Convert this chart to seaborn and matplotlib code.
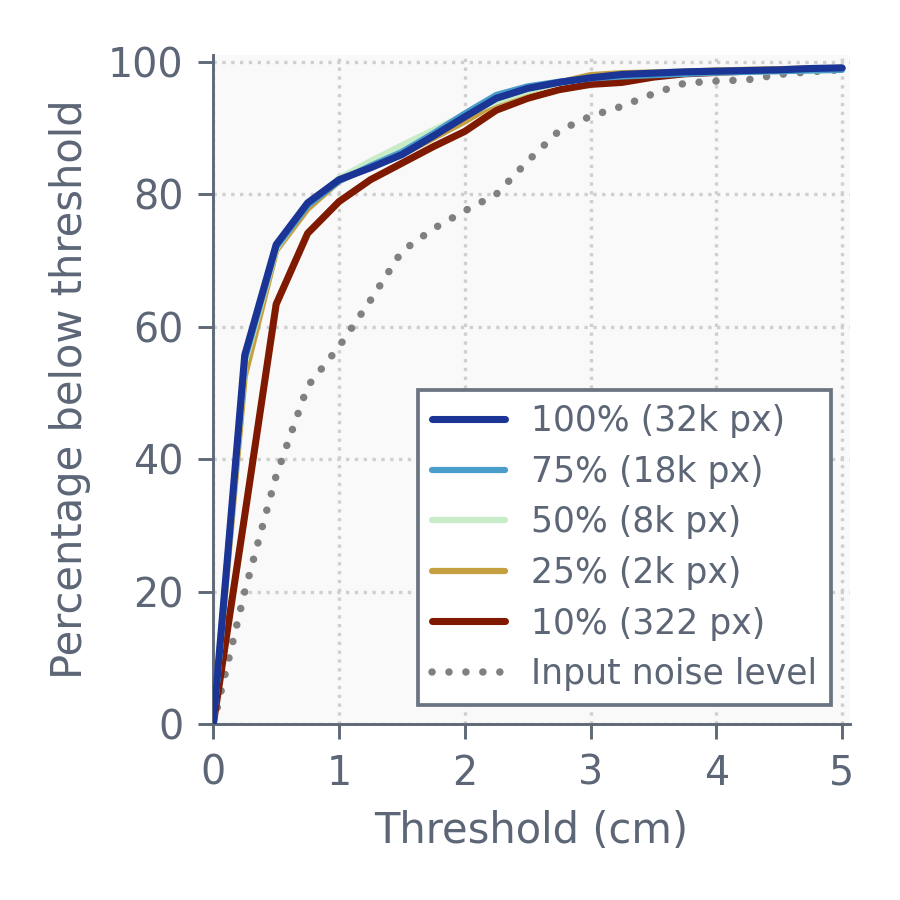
import numpy as np
import pandas as pd
import seaborn as sns
import matplotlib.pyplot as plt

# thresholds (cm)
thresholds = [0, 0.25, 0.5, 0.75, 1, 1.25, 1.5, 1.75, 2, 2.25, 2.5, 2.75,
              3, 3.25, 3.5, 3.75, 4, 4.25, 4.5, 4.75, 5]

# percentage below threshold for each training size
pct_100 = [0, 55.7, 72.4, 78.7, 82.2, 84.0, 86.0, 88.8, 91.7, 94.5, 96.0, 96.9,
           97.6, 98.1, 98.3, 98.5, 98.6, 98.7, 98.8, 99.0, 99.1]
pct_75 = [0, 55.0, 72.0, 78.3, 82.0, 84.3, 86.4, 89.2, 92.2, 95.0, 96.3, 97.0,
          97.5, 97.8, 98.0, 98.2, 98.4, 98.5, 98.6, 98.7, 98.8]
pct_50 = [0, 54.5, 71.8, 78.5, 82.4, 85.0, 87.4, 89.7, 92.0, 94.0, 95.6, 96.8,
          97.6, 98.0, 98.2, 98.3, 98.4, 98.5, 98.6, 98.7, 98.8]
pct_25 = [0, 52.5, 71.5, 77.8, 82.0, 84.2, 86.0, 88.5, 91.0, 93.8, 95.5, 96.9,
          98.0, 98.3, 98.4, 98.5, 98.7, 98.8, 98.9, 99.0, 99.1]
pct_10 = [0, 31.5, 63.4, 74.1, 78.9, 82.2, 84.7, 87.2, 89.5, 92.7, 94.5, 95.8,
          96.6, 96.9, 97.7, 98.2, 98.4, 98.6, 98.8, 98.9, 99.0]
noise = [0, 20.0, 37.5, 51.0, 57.0, 64.0, 71.4, 74.8, 77.5, 80.0, 85.0, 89.6,
         91.8, 93.3, 95.2, 96.8, 97.1, 97.3, 98.1, 98.5, 98.8]

labels = ['100% (32k px)', '75% (18k px)', '50% (8k px)', '25% (2k px)', '10% (322 px)']
colors = ['#1b3596', '#4a9ccb', '#c8ebc8', '#c4a040', '#7f1a00']
widths = [1.7, 1.5, 1.5, 1.5, 1.7]
series = [pct_100, pct_75, pct_50, pct_25, pct_10]

txt = '#5c6676'
spine_c = '#5f6977'

sns.set_style('ticks')
plt.rcParams['font.family'] = ['DejaVu Sans']

fig = plt.figure(figsize=(3, 3), dpi=300)
ax = fig.add_axes([0.237, 0.1956, 0.707, 0.743])
ax.set_facecolor('#f9f9f9')

handles = {}
sns.lineplot(x=thresholds, y=noise, ax=ax, color='#808080', lw=1.8,
             label='Input noise level', zorder=2)
ln = ax.lines[-1]
ln.set_linestyle((0, (0.01, 2.25)))
ln.set_dash_capstyle('round')
handles['Input noise level'] = ln

for lab, c, w, vals, z in reversed(list(zip(labels, colors, widths, series, [8, 7, 6, 5, 4]))):
    sns.lineplot(x=thresholds, y=vals, ax=ax, color=c, lw=w, label=lab, zorder=z)
    handles[lab] = ax.lines[-1]

ax.set_xlim(0, 5.06)
ax.set_ylim(0, 101)
ax.set_xticks([0, 1, 2, 3, 4, 5])
ax.set_yticks([0, 20, 40, 60, 80, 100])
ax.grid(True, ls=':', color='#cfcfcf', lw=0.8)
ax.set_axisbelow(True)

sns.despine(ax=ax)
for s in ['left', 'bottom']:
    ax.spines[s].set_color(spine_c)
    ax.spines[s].set_linewidth(0.7)
ax.tick_params(colors=spine_c, labelcolor=txt, labelsize=9.5, length=3.6, width=0.7)

ax.set_xlabel('Threshold (cm)', fontsize=10, color=txt)
ax.set_ylabel('Percentage below threshold', fontsize=10, color=txt)

order = labels + ['Input noise level']
leg = ax.legend([handles[k] for k in order], order, loc='lower right', fontsize=8.3,
                frameon=True, fancybox=False, framealpha=1, borderaxespad=0.55,
                handlelength=2.1, handletextpad=0.75, labelspacing=0.48)
leg.get_frame().set_edgecolor('#6b7480')
leg.get_frame().set_linewidth(0.9)
leg.get_frame().set_facecolor('white')
for t in leg.get_texts():
    t.set_color(txt)

fig.savefig('out.png', dpi=300)
